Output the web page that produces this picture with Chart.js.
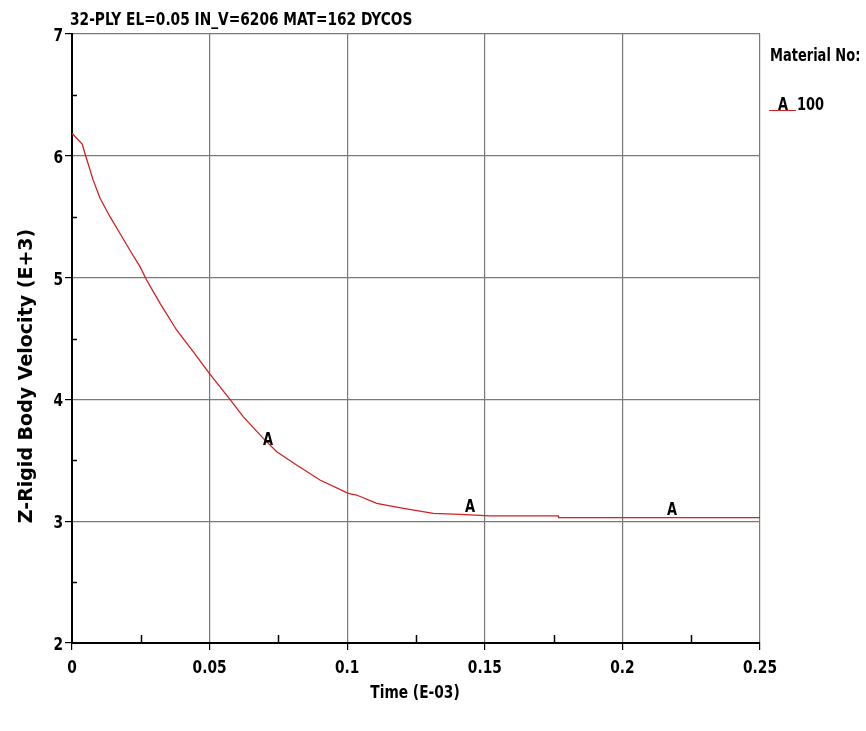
<!DOCTYPE html>
<html>
<head>
<meta charset="utf-8">
<script src="https://cdn.jsdelivr.net/npm/chart.js@4.4.0/dist/chart.umd.min.js"></script>
<style>
  html, body { margin: 0; padding: 0; background: #fff; }
  #wrap { width: 866px; height: 731px; }
</style>
</head>
<body>
<div id="wrap"><canvas id="canvas" width="866" height="731"></canvas></div>
<script>
// values (time E-03, velocity E+3)
var timeValues = [0, 0.0037, 0.0051, 0.0077, 0.0102, 0.0138, 0.0174, 0.0217, 0.0247, 0.0271,
  0.032, 0.038, 0.0441, 0.0499, 0.0574, 0.0622, 0.0695, 0.0744, 0.0816, 0.0901,
  0.1004, 0.1034, 0.1107, 0.1204, 0.1313, 0.141, 0.1519, 0.1664, 0.1767, 0.1768, 0.25];
var velocityValues = [6.185, 6.097, 5.99, 5.80, 5.651, 5.50, 5.364, 5.20, 5.09, 4.98,
  4.789, 4.57, 4.39, 4.214, 4.0, 3.858, 3.68, 3.57, 3.461, 3.338,
  3.229, 3.215, 3.147, 3.106, 3.065, 3.056, 3.043, 3.043, 3.043, 3.03, 3.03];

// tick labels
var xTickValues = [0, 0.05, 0.1, 0.15, 0.2, 0.25];
var xTickLabels = ["0", "0.05", "0.1", "0.15", "0.2", "0.25"];
var yTickValues = [2, 3, 4, 5, 6, 7];
var yTickLabels = ["2", "3", "4", "5", "6", "7"];

// symbol "A" labels along the curve
var markerTimes = [0.0712, 0.1446, 0.218];
var markerValues = [3.6, 3.05, 3.03];
var markerSymbol = "A";

var chartTitle = "32-PLY EL=0.05 IN_V=6206 MAT=162 DYCOS";
var xTitle = "Time (E-03)";
var yTitle = "Z-Rigid Body Velocity (E+3)";
var legendTitle = "Material No:";
var legendLabel = "100";

var narrowFont = 'bold 18px "DejaVu Sans Condensed", "DejaVu Sans", sans-serif';
var lineColor = "#d42020";
var squeeze = 0.85;

var points = [];
for (var i = 0; i < timeValues.length; i++) {
  points[i] = { x: timeValues[i], y: velocityValues[i] };
}

// condensed text: squeeze horizontally like the original plotter font
function narrowText(ctx, text, x, y, align, size) {
  ctx.save();
  ctx.font = narrowFont.replace("18px", (size || 18) + "px");
  ctx.textBaseline = "alphabetic";
  ctx.textAlign = "left";
  var w = ctx.measureText(text).width * squeeze;
  var x0 = x;
  if (align === "center") x0 = x - w / 2;
  if (align === "right") x0 = x - w;
  ctx.translate(x0, y);
  ctx.scale(squeeze, 1);
  ctx.fillText(text, 0, 0);
  ctx.restore();
}

var decorPlugin = {
  id: "decor",
  afterDraw: function(chart) {
    var ctx = chart.ctx;
    var xs = chart.scales.x, ys = chart.scales.y;
    var a = chart.chartArea;
    ctx.save();

    // minor ticks inside the plot
    ctx.strokeStyle = "#000";
    ctx.lineWidth = 1.5;
    ctx.beginPath();
    for (var v = 2.5; v < 7; v += 1) {
      var py = Math.round(ys.getPixelForValue(v)) + 0.5;
      ctx.moveTo(a.left, py); ctx.lineTo(a.left + 5, py);
    }
    for (var t = 0.025; t < 0.25; t += 0.05) {
      var px = Math.round(xs.getPixelForValue(t)) + 0.5;
      ctx.moveTo(px, a.bottom); ctx.lineTo(px, a.bottom - 8);
    }
    ctx.stroke();

    ctx.fillStyle = "#000";

    // tick labels
    for (var j = 0; j < xTickValues.length; j++) {
      narrowText(ctx, xTickLabels[j], xs.getPixelForValue(xTickValues[j]), a.bottom + 30, "center", 18);
    }
    for (var m = 0; m < yTickValues.length; m++) {
      narrowText(ctx, yTickLabels[m], a.left - 9, ys.getPixelForValue(yTickValues[m]) + 7, "right", 18);
    }

    // curve symbols
    for (var k = 0; k < markerTimes.length; k++) {
      narrowText(ctx, markerSymbol, xs.getPixelForValue(markerTimes[k]), ys.getPixelForValue(markerValues[k]) - 3, "center", 17);
    }

    // chart title
    narrowText(ctx, chartTitle, 70, 25, "left", 18);

    // x title
    narrowText(ctx, xTitle, 415, 698, "center", 18);

    // y title
    ctx.save();
    ctx.translate(32, 376);
    ctx.rotate(-Math.PI / 2);
    ctx.font = "bold 19px 'DejaVu Sans', sans-serif";
    ctx.textAlign = "center";
    ctx.textBaseline = "alphabetic";
    ctx.fillText(yTitle, 0, 0);
    ctx.restore();

    // legend
    narrowText(ctx, legendTitle, 770, 61, "left", 17);
    narrowText(ctx, markerSymbol, 783, 110, "center", 17);
    narrowText(ctx, legendLabel, 797, 110, "left", 17);
    ctx.strokeStyle = lineColor;
    ctx.lineWidth = 1;
    ctx.beginPath();
    ctx.moveTo(769, 110.5); ctx.lineTo(796, 110.5);
    ctx.stroke();

    ctx.restore();
  }
};

window.onload = function() {
  var ctx = document.getElementById("canvas").getContext("2d");
  window.myChart = new Chart(ctx, {
    type: "line",
    data: {
      datasets: [{
        label: legendLabel,
        data: points,
        borderColor: lineColor,
        borderWidth: 1.3,
        pointRadius: 0,
        tension: 0,
        fill: false
      }]
    },
    options: {
      responsive: false,
      animation: false,
      layout: { padding: { left: 0, top: 34, right: 106, bottom: 0 } },
      plugins: { legend: { display: false }, tooltip: { enabled: false } },
      scales: {
        x: {
          type: "linear",
          min: 0, max: 0.25,
          afterFit: function(s) { s.height = 88; },
          afterBuildTicks: function(s) { s.ticks = xTickValues.map(function(v) { return { value: v }; }); },
          ticks: { display: false },
          grid: { color: "#7a7a7a", lineWidth: 1.2, tickLength: 7, tickColor: "#000" },
          border: { color: "#000", width: 2 }
        },
        y: {
          min: 2, max: 7,
          afterFit: function(s) { s.width = 72; },
          afterBuildTicks: function(s) { s.ticks = yTickValues.map(function(v) { return { value: v }; }); },
          ticks: { display: false },
          grid: { color: "#7a7a7a", lineWidth: 1.2, tickLength: 7, tickColor: "#000" },
          border: { color: "#000", width: 2 }
        }
      }
    },
    plugins: [decorPlugin]
  });
};
</script>
</body>
</html>
